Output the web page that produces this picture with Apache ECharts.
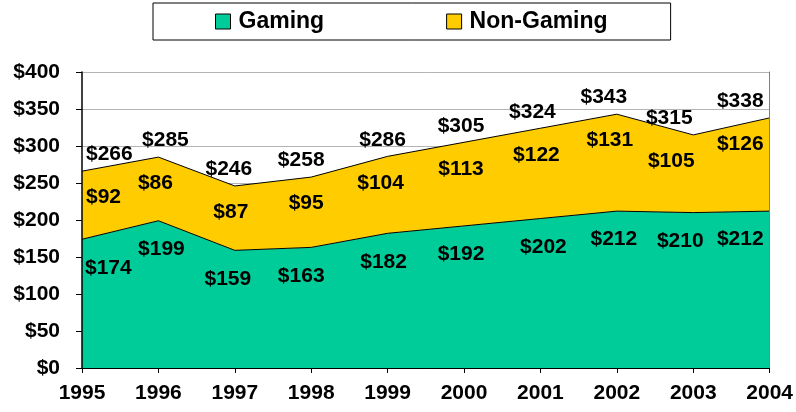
<!DOCTYPE html>
<html>
<head>
<meta charset="utf-8">
<script src="https://cdn.jsdelivr.net/npm/echarts@6/dist/echarts.min.js"></script>
<style>
  html, body { margin: 0; padding: 0; background: #fff; }
  #chart { width: 796px; height: 412px; }
</style>
</head>
<body>
<div id="chart"></div>
<script>
const years = ["1995", "1996", "1997", "1998", "1999", "2000", "2001", "2002", "2003", "2004"];
const gaming = [174, 199, 159, 163, 182, 192, 202, 212, 210, 212];
const nonGaming = [92, 86, 87, 95, 104, 113, 122, 131, 105, 126];
const yTicks = [0, 50, 100, 150, 200, 250, 300, 350, 400];

const totals = gaming.map((g, i) => g + nonGaming[i]);
const font = "'Liberation Sans', Arial, sans-serif";

// horizontal label nudges (px), the original labels were hand-placed
const gamingNudge = [3, 3, -7, -10, -4, -3, 3, -3, -13, -6];
const nonGamingNudge = [4, -3, -4, -5, -7, -3, -4, -7, -22, -6];
const totalNudge = [4, 7, -6, -10, -5, -3, -8, -13, -24, -6];

const withNudge = (arr, nudge) => arr.map((v, i) => {
  let align = "center";
  if (i === 0) align = "left";
  if (i === arr.length - 1) align = "right";
  return { value: v, label: { align: align, offset: [nudge[i], 0] } };
});

const labelStyle = { show: true, color: "#000", fontSize: 21, fontWeight: "bold", fontFamily: font };
const yMin = yTicks[0];
const yMax = yTicks[yTicks.length - 1];

const chart = echarts.init(document.getElementById("chart"));
chart.setOption({
  backgroundColor: "#fff",
  animation: false,
  textStyle: { fontFamily: font },
  legend: {
    data: ["Gaming", "Non-Gaming"],
    left: 153,
    top: 3,
    padding: [7, 63, 7, 62],
    itemGap: 122,
    itemWidth: 15,
    itemHeight: 15,
    borderColor: "#000",
    borderWidth: 1,
    backgroundColor: "#fff",
    icon: "rect",
    itemStyle: { borderColor: "#000", borderWidth: 1 },
    textStyle: { fontSize: 23, fontWeight: "bold", color: "#000", fontFamily: font, padding: [0, 0, 0, 3] },
  },
  grid: { left: 82, right: 26, top: 72, bottom: 44 },
  xAxis: [
    {
      type: "category",
      data: years,
      boundaryGap: false,
      z: 10,
      axisLine: { lineStyle: { color: "#000", width: 1 } },
      axisTick: { length: 5, lineStyle: { color: "#000" } },
      axisLabel: { color: "#000", fontSize: 21, fontWeight: "bold", margin: 15, fontFamily: font },
      splitLine: { show: false },
    },
    {
      type: "category",
      data: years,
      position: "top",
      boundaryGap: false,
      z: 10,
      axisLine: { lineStyle: { color: "#000", width: 1 } },
      axisTick: { show: false },
      axisLabel: { show: false },
    },
  ],
  yAxis: [
    {
      // gridlines + labels, behind the areas
      type: "value",
      min: yMin,
      max: yMax,
      interval: 50,
      z: 0,
      axisLine: { show: false },
      axisTick: { show: false },
      axisLabel: { color: "#000", fontSize: 21, fontWeight: "bold", margin: 22, fontFamily: font, formatter: (v) => "$" + v },
      splitLine: { lineStyle: { color: "#b4b4b4", width: 1 } },
    },
    {
      type: "value",
      position: "right",
      min: yMin,
      max: yMax,
      interval: 50,
      z: 10,
      axisLine: { show: true, lineStyle: { color: "#808080", width: 1 } },
      axisTick: { show: false },
      axisLabel: { show: false },
      splitLine: { show: false },
    },
    {
      // black axis line and ticks on top of the areas
      type: "value",
      position: "left",
      min: yMin,
      max: yMax,
      interval: 50,
      z: 10,
      axisLine: { show: true, lineStyle: { color: "#000", width: 1.5 } },
      axisTick: { show: true, length: 6, lineStyle: { color: "#000" } },
      axisLabel: { show: false },
      splitLine: { show: false },
    },
  ],
  series: [
    {
      name: "Gaming",
      type: "line",
      stack: "total",
      data: withNudge(gaming, gamingNudge),
      symbol: "circle",
      symbolSize: 0,
      showSymbol: true,
      lineStyle: { color: "#000", width: 1 },
      itemStyle: { color: "#00CC99" },
      areaStyle: { color: "#00CC99", opacity: 1 },
      label: Object.assign({}, labelStyle, {
        position: "bottom",
        distance: 18,
        formatter: (p) => "$" + gaming[p.dataIndex],
      }),
      z: 2,
    },
    {
      name: "Non-Gaming",
      type: "line",
      stack: "total",
      data: withNudge(nonGaming, nonGamingNudge),
      symbol: "circle",
      symbolSize: 0,
      showSymbol: true,
      lineStyle: { color: "#000", width: 1 },
      itemStyle: { color: "#FFCC00" },
      areaStyle: { color: "#FFCC00", opacity: 1 },
      label: Object.assign({}, labelStyle, {
        position: "bottom",
        distance: 16,
        formatter: (p) => "$" + nonGaming[p.dataIndex],
      }),
      z: 2,
    },
    {
      name: "Total",
      type: "line",
      data: withNudge(totals, totalNudge),
      symbol: "circle",
      symbolSize: 0,
      showSymbol: true,
      lineStyle: { width: 0, color: "transparent" },
      itemStyle: { color: "transparent" },
      silent: true,
      label: Object.assign({}, labelStyle, {
        position: "top",
        distance: 6,
        formatter: (p) => "$" + totals[p.dataIndex],
      }),
      z: 3,
    },
  ],
});
</script>
</body>
</html>
